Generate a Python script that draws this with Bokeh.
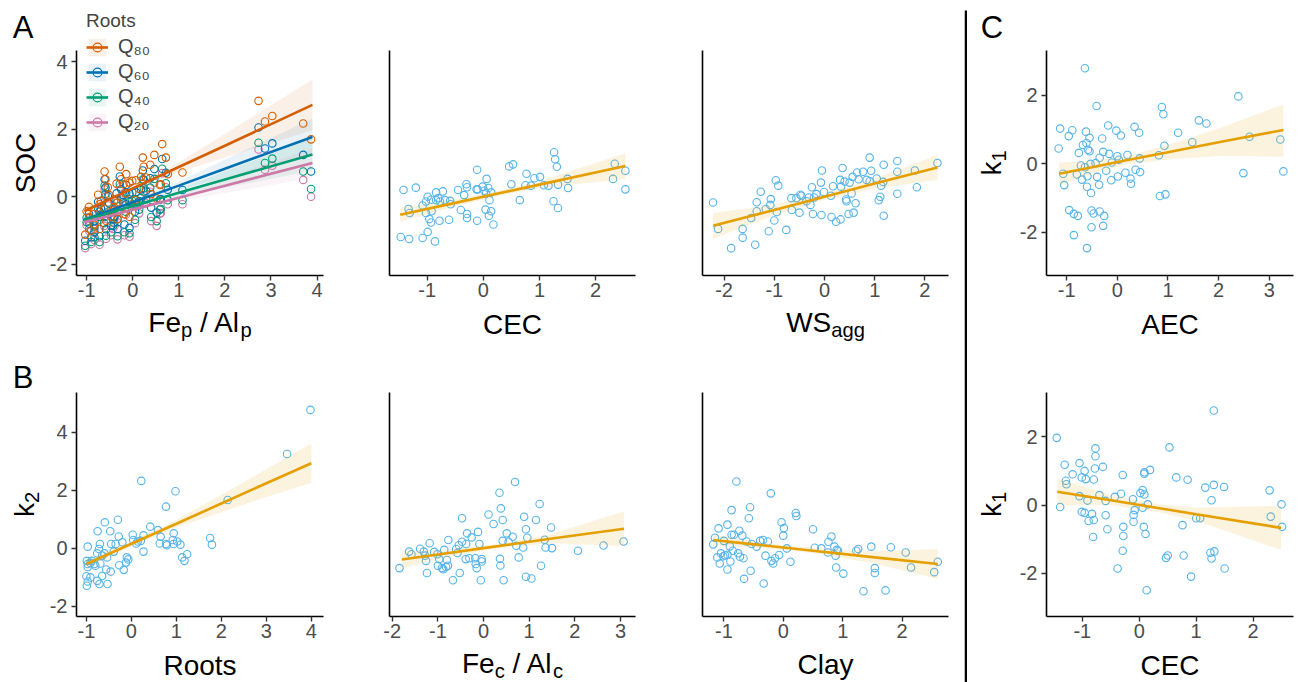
import math
from bokeh.plotting import figure
from bokeh.layouts import row, column
from bokeh.models import Range1d, FixedTicker, Label, Legend, LegendItem, BoxAnnotation
from bokeh.embed import file_html
from bokeh.resources import INLINE

FONT = "Liberation Sans"
POINT_COLOR = "#56B4E9"
FIT_COLOR = "#E69F00"
ROOT_LABELS = ["Q\u2088\u2080", "Q\u2086\u2080", "Q\u2084\u2080", "Q\u2082\u2080"]
ROOT_COLORS = ["#D55E00", "#0072B2", "#009E73", "#CC79A7"]

# ---------------- Panel A1: SOC vs Fe_p/Al_p by root quantile ----------------
soc_x = [-1.00, -1.03, -0.75, -0.61, -0.59, -0.51, -0.40, -0.35, -0.28, -0.25, -0.20, -0.14, -0.07, -0.01, 0.07,
         0.18, 0.22, 0.24, 0.29, 0.38, 0.47, 0.64, 0.61, 0.72, 0.76, 1.08, -0.07, -0.72, -0.83, -0.43, -0.33,
         -0.40, -0.54, -0.69, -0.94, 0.40, 0.14, 0.59, -0.83, -0.58, -0.47, -0.33, -0.18, -0.90, -0.72, 0.52,
         -0.95, -0.62, -0.15, 0.05, 2.73, 2.87, 3.03, 3.70, 3.87]
soc_q80 = [-0.43, -1.12, 0.06, 0.75, 0.52, 0.05, -0.10, 0.39, 0.89, 0.52, 0.37, 0.67, 0.42, 0.47, 0.49, 0.59,
           1.16, 0.89, 0.57, 0.95, 1.24, 1.56, 0.37, 1.16, 0.67, 0.72, -0.59, -0.22, -0.51, -0.41, -0.17, -0.32,
           0.28, -0.12, -0.61, 0.08, 0.23, 0.35, -0.83, -0.71, -0.59, -0.66, -0.51, -1.00, -0.95, -0.05, -0.30,
           -0.35, 0.10, -0.10, 2.84, 2.23, 2.39, 2.17, 1.70]
soc_q60 = [-0.62, -1.30, -0.15, 0.52, 0.27, -0.20, -0.38, 0.10, 0.60, 0.22, 0.05, 0.35, 0.09, 0.13, 0.14, 0.22,
           0.78, 0.50, 0.18, 0.55, 0.82, 1.12, -0.07, 0.71, 0.21, 0.20, -0.92, -0.44, -0.72, -0.67, -0.45, -0.60,
           0.02, -0.35, -0.80, -0.32, -0.13, -0.08, -1.04, -0.96, -0.86, -0.95, -0.82, -1.20, -1.17, -0.47, -0.50,
           -0.60, -0.22, -0.44, 2.05, 1.43, 1.58, 1.24, 0.75]
soc_q40 = [-0.75, -1.45, -0.35, 0.33, 0.08, -0.42, -0.58, -0.08, 0.38, 0.00, -0.16, 0.13, -0.15, -0.12, -0.10,
           -0.04, 0.52, 0.25, -0.08, 0.27, 0.53, 0.83, -0.36, 0.40, -0.10, -0.10, -1.08, -0.60, -0.88, -0.86,
           -0.66, -0.78, -0.17, -0.52, -0.94, -0.60, -0.38, -0.38, -1.20, -1.15, -1.05, -1.17, -1.05, -1.34,
           -1.34, -0.72, -0.63, -0.78, -0.44, -0.68, 1.60, 1.00, 1.13, 0.75, 0.23]
soc_q20 = [-0.84, -1.52, -0.40, 0.22, 0.00, -0.50, -0.66, -0.18, 0.28, -0.09, -0.25, 0.03, -0.25, -0.21, -0.20,
           -0.15, 0.41, 0.14, -0.19, 0.15, 0.42, 0.70, -0.48, 0.28, -0.22, -0.22, -1.18, -0.68, -0.95, -0.95,
           -0.76, -0.88, -0.26, -0.60, -1.02, -0.72, -0.49, -0.50, -1.28, -1.24, -1.14, -1.26, -1.14, -1.40,
           -1.42, -0.86, -0.71, -0.86, -0.53, -0.78, 1.40, 0.80, 0.92, 0.50, 0.00]
soc_fit_x = [-1.05, -0.5, 0.0, 1.0, 2.0, 3.9]
soc_fit_q80 = [-0.42, -0.07, 0.25, 0.88, 1.51, 2.72]
soc_lo_q80 = [-0.57, -0.15, 0.18, 0.73, 1.16, 1.97]
soc_hi_q80 = [-0.27, 0.01, 0.32, 1.03, 1.86, 3.47]
soc_fit_q60 = [-0.68, -0.41, -0.16, 0.33, 0.83, 1.77]
soc_lo_q60 = [-0.81, -0.48, -0.22, 0.21, 0.56, 1.22]
soc_hi_q60 = [-0.55, -0.34, -0.10, 0.45, 1.10, 2.32]
soc_fit_q40 = [-0.68, -0.47, -0.27, 0.12, 0.51, 1.25]
soc_lo_q40 = [-0.80, -0.53, -0.33, 0.01, 0.27, 0.77]
soc_hi_q40 = [-0.56, -0.41, -0.21, 0.23, 0.75, 1.73]
soc_fit_q20 = [-0.75, -0.56, -0.38, -0.03, 0.33, 1.00]
soc_lo_q20 = [-0.87, -0.62, -0.44, -0.13, 0.11, 0.56]
soc_hi_q20 = [-0.63, -0.50, -0.32, 0.07, 0.55, 1.44]

# ---------------- Panel A2: SOC vs CEC ----------------
cecA_x = [-1.42, -1.20, -1.33, -1.31, -1.47, -1.32, -1.08, -0.99, -0.86, -1.08, -1.02, -0.99, -0.93, -0.84, -0.84,
          -0.80, -0.72, -0.77, -0.68, -0.59, -0.58, -1.02, -0.96, -0.93, -0.92, -0.78, -0.61, -0.45, -0.34, -0.30,
          -0.29, -0.40, -0.29, -0.29, -0.11, -0.11, -0.12, -0.10, -0.01, 0.02, 0.06, 0.05, 0.09, 0.11, 0.14, 0.04,
          0.10, 0.14, 0.18, 0.46, 0.53, 0.50, 0.65, 0.77, 0.75, 0.85, 0.91, 1.01, 1.08, 1.16, 1.26, 1.28, 1.31,
          1.25, 1.33, 1.33, 1.50, 1.51, 2.34, 2.31, 2.53, 2.53]
cecA_soc = [0.20, 0.27, -0.36, -0.48, -1.19, -1.25, -1.22, -1.04, -1.32, -0.26, -0.14, 0.00, -0.09, 0.13, -0.10,
            -0.04, 0.16, -0.14, -0.10, -0.12, -0.22, -0.48, -0.66, -0.76, -0.43, -0.71, -0.68, 0.20, 0.05, 0.37,
            0.28, -0.39, -0.51, -0.63, -0.71, 0.80, 0.22, 0.22, 0.30, 0.18, 0.53, 0.10, 0.26, -0.10, 0.13, -0.38,
            -0.56, -0.43, -0.82, 0.90, 0.96, 0.37, -0.10, 0.68, 0.34, 0.33, 0.55, 0.59, 0.34, 0.33, 1.32, 1.11,
            0.89, -0.13, -0.33, 0.36, 0.53, 0.26, 0.98, 0.53, 0.77, 0.22]
cecA_fit_x = [-1.48, -0.5, 0.3, 1.0, 2.53]
cecA_fit = [-0.53, -0.18, 0.11, 0.36, 0.91]
cecA_lo = [-0.74, -0.28, 0.03, 0.26, 0.53]
cecA_hi = [-0.32, -0.08, 0.19, 0.46, 1.29]

# ---------------- Panel A3: SOC vs WS_agg ----------------
ws_x = [-2.22, -2.12, -1.86, -1.63, -1.63, -1.38, -1.46, -1.35, -1.35, -1.27, -1.17, -1.08, -1.07, -1.11, -1.00,
        -0.95, -0.97, -0.92, -0.76, -0.66, -0.65, -0.56, -0.50, -0.48, -0.46, -0.36, -0.31, -0.28, -0.25, -0.23,
        -0.21, -0.16, -0.07, -0.05, -0.06, -0.01, 0.13, 0.14, 0.17, 0.23, 0.31, 0.32, 0.33, 0.36, 0.40, 0.43,
        0.44, 0.48, 0.50, 0.54, 0.56, 0.58, 0.62, 0.65, 0.68, 0.77, 0.84, 0.90, 0.93, 0.90, 1.04, 1.08, 1.11,
        1.13, 1.17, 1.18, 1.18, 1.45, 1.45, 1.45, 1.80, 1.84, 2.25]
ws_soc = [-0.17, -0.95, -1.52, -0.95, -1.21, -1.42, -0.63, -0.16, -0.43, 0.15, -0.36, -0.24, -0.07, -1.02, -0.70,
          -0.45, 0.49, 0.33, -0.98, -0.04, -0.39, -0.04, -0.47, 0.06, 0.03, -0.13, -0.02, -0.24, 0.28, -0.51,
          -0.02, 0.08, 0.42, 0.78, -0.54, 0.14, 0.03, -0.60, 0.31, -0.74, 0.50, -0.67, 0.30, 0.85, 0.45, -0.08,
          -0.13, -0.51, 0.42, 0.10, 0.59, -0.47, -0.19, 0.72, 0.52, 0.74, 0.50, 1.16, 0.77, 0.46, 0.54, -0.10,
          0.00, 0.33, 0.44, 0.95, -0.56, 1.06, 0.74, 0.09, 0.78, 0.28, 1.00]
ws_fit_x = [-2.22, -1.0, 0.0, 1.0, 2.25]
ws_fit = [-0.86, -0.39, 0.0, 0.39, 0.87]
ws_lo = [-1.24, -0.55, -0.09, 0.24, 0.50]
ws_hi = [-0.48, -0.23, 0.09, 0.54, 1.24]

# ---------------- Panel C1: k1 vs AEC ----------------
aec_x = [-1.16, -1.13, -0.96, -0.89, -1.07, -1.05, -0.95, -0.86, -0.78, -0.86, -0.80, -0.76, -0.72, -0.68, -0.64,
         -0.70, -0.64, -0.62, -0.61, -0.58, -0.55, -0.55, -0.59, -0.60, -0.53, -0.52, -0.60, -0.51, -0.47, -0.51,
         -0.41, -0.43, -0.40, -0.36, -0.35, -0.35, -0.30, -0.28, -0.26, -0.28, -0.22, -0.18, -0.16, -0.12, -0.11,
         -0.02, 0.00, 0.01, 0.03, 0.07, 0.16, 0.20, 0.26, 0.27, 0.34, 0.36, 0.43, 0.44, 0.45, 0.82, 0.84, 0.88,
         0.91, 0.93, 0.95, 1.20, 1.48, 1.61, 1.76, 2.39, 2.49, 2.61, 3.22, 3.28]
aec_k1 = [0.44, 1.02, 0.80, 0.97, -0.30, -0.63, -1.36, -1.47, -1.53, -2.09, -0.32, 0.31, -0.06, 0.54, -0.11, -0.47,
          2.78, 0.93, 0.60, 0.40, 0.75, 0.36, -0.37, -0.68, -0.01, -0.86, -2.47, -1.37, -1.46, -1.86, 1.68, 0.01,
          -0.39, -0.62, 0.17, -1.40, 0.73, 0.34, -1.53, -1.82, -0.21, 1.11, 0.28, -0.49, 0.03, 0.96, 0.21, -0.38,
          0.11, 0.82, -0.27, 0.25, -0.44, -0.59, 1.07, -0.18, 0.90, 0.15, -0.25, 0.24, -0.95, 1.65, 1.44, 0.52,
          -0.90, 0.90, 0.62, 1.26, 1.17, 1.96, -0.28, 0.78, 0.70, -0.23]
aec_fit_x = [-1.15, -0.5, 0.2, 1.0, 2.0, 3.28]
aec_fit = [-0.30, -0.11, 0.10, 0.33, 0.62, 0.98]
aec_lo = [-0.63, -0.30, -0.02, 0.12, 0.22, 0.20]
aec_hi = [0.03, 0.08, 0.22, 0.54, 1.02, 1.72]

# ---------------- Panel B1: k2 vs Roots ----------------
roots_x = [3.98, 3.46, 2.14, 1.75, 1.79, 0.22, 0.98, 0.77, 0.42, 0.59, 0.65, 0.94, 0.92, 1.02, 1.09, 0.63, 0.77,
           0.79, 0.94, 1.13, 1.18, 1.24, 0.27, 0.27, 0.03, 0.04, 0.11, 0.14, 0.21, -0.30, -0.28, -0.35, -0.20,
           -0.39, -0.27, -0.10, -0.07, -0.12, -0.17, -0.59, -0.75, -0.47, -0.45, -0.70, -0.72, -0.76, -0.60,
           -0.65, -0.54, -0.56, -0.46, -0.65, -0.53, -0.71, -0.76, -0.97, -0.99, -0.97, -0.97, -0.91, -0.88,
           -0.82, -1.00, -0.97, -0.99, -0.91, -0.80, -0.69]
roots_k2 = [4.77, 3.25, 1.66, 0.35, 0.12, 2.32, 1.96, 1.43, 0.74, 0.62, 0.39, 0.51, 0.28, 0.23, 0.12, 0.16, 0.14,
            0.10, 0.14, -0.32, -0.44, -0.21, 0.44, -0.12, 0.46, 0.28, 0.16, 0.23, 0.25, 0.98, 0.40, 0.14, 0.20,
            -0.12, -0.59, -0.32, -0.39, -0.50, -0.75, 0.89, 0.58, 0.58, 0.14, 0.14, -0.03, -0.18, -0.18, -0.26,
            -0.32, -0.74, -0.81, -0.96, -1.24, -1.24, -1.13, 0.05, -0.44, -0.55, -0.65, -0.51, -0.44, -0.55,
            -0.97, -1.15, -1.30, -1.01, -0.61, -0.53]
roots_fit_x = [-1.0, 0.0, 1.0, 2.0, 3.0, 4.0]
roots_fit = [-0.55, 0.15, 0.84, 1.54, 2.24, 2.93]
roots_lo = [-0.70, 0.06, 0.71, 1.24, 1.76, 2.25]
roots_hi = [-0.41, 0.24, 0.97, 1.84, 2.72, 3.61]

# ---------------- Panel B2: k2 vs Fe_c/Al_c ----------------
fec_x = [-1.84, -1.63, -1.58, -1.39, -1.31, -1.28, -1.26, -1.24, -1.18, -1.08, -1.01, -0.97, -1.00, -0.91, -0.88,
         -0.82, -0.78, -0.80, -0.86, -0.77, -0.67, -0.60, -0.57, -0.54, -0.52, -0.47, -0.47, -0.38, -0.36, -0.39,
         -0.31, -0.26, -0.18, -0.17, -0.15, -0.12, -0.09, -0.06, -0.04, -0.04, 0.11, 0.22, 0.35, 0.38, 0.42, 0.36,
         0.37, 0.42, 0.44, 0.51, 0.55, 0.64, 0.69, 0.72, 0.77, 0.87, 0.89, 0.93, 0.96, 0.93, 1.05, 1.15, 1.23,
         1.26, 1.34, 1.36, 1.48, 1.50, 2.07, 2.63, 3.07]
fec_k2 = [-0.69, -0.12, -0.21, -0.02, -0.12, -0.26, -0.44, -0.86, 0.17, -0.13, -0.21, -0.38, -0.61, -0.69, -0.73,
          -0.65, -0.61, -0.41, -0.06, 0.28, -1.11, -0.03, -0.17, 0.10, -0.86, 1.03, 0.22, 0.14, 0.51, -0.38, -0.35,
          0.37, -0.35, -0.55, -0.69, 0.56, 0.14, -1.11, -0.38, -0.46, 1.16, 0.83, 1.91, 1.37, 0.97, -0.37, -0.60,
          0.25, -1.11, 0.51, 0.22, 0.39, 2.28, 0.08, -0.32, 0.02, 1.08, 0.65, 0.36, -0.99, -1.05, 0.97, 1.52,
          -0.61, 0.29, 0.02, 0.71, 0.00, -0.09, 0.09, 0.23]
fec_fit_x = [-1.79, -1.0, 0.0, 0.5, 1.5, 3.08]
fec_fit = [-0.39, -0.22, 0.0, 0.11, 0.33, 0.67]
fec_lo = [-0.70, -0.37, -0.09, 0.02, 0.17, 0.07]
fec_hi = [-0.08, -0.07, 0.09, 0.20, 0.49, 1.27]

# ---------------- Panel B3: k2 vs Clay ----------------
clay_x = [-1.18, -1.15, -1.09, -1.11, -1.07, -1.05, -1.01, -1.00, -0.98, -0.94, -0.94, -0.94, -0.90, -0.89, -0.87,
          -0.87, -0.85, -0.83, -0.79, -0.76, -0.74, -0.73, -0.69, -0.67, -0.66, -0.62, -0.58, -0.56, -0.55, -0.53,
          -0.45, -0.39, -0.34, -0.33, -0.30, -0.26, -0.21, -0.20, -0.17, -0.14, -0.07, -0.03, 0.01, 0.00, 0.06,
          0.12, 0.21, 0.22, 0.50, 0.53, 0.64, 0.75, 0.76, 0.81, 0.86, 0.88, 0.90, 0.92, 0.89, 1.01, 1.23, 1.26,
          1.35, 1.48, 1.54, 1.54, 1.72, 1.81, 2.06, 2.15, 2.54, 2.60]
clay_k2 = [0.13, 0.36, 0.68, -0.32, -0.53, -0.18, -0.28, 0.25, -0.25, -0.74, 0.81, -0.23, 0.06, -0.46, 1.31, 0.46,
           -0.09, 0.46, 2.30, -0.18, 0.60, -0.30, 0.43, -0.35, -1.06, 0.23, 1.03, 1.41, -0.78, 0.14, 0.05, 0.25,
           0.28, -1.22, -0.26, 0.23, 1.89, -0.44, -0.53, -0.35, -0.24, 0.89, 0.69, 0.43, -0.01, -0.47, 1.21, 1.11,
           0.65, 0.01, -0.01, -0.15, 0.22, 0.40, 0.05, -0.26, -0.06, -0.09, -0.67, -0.88, -0.09, -0.03, -1.49,
           0.05, -0.69, -0.86, -1.46, 0.03, -0.15, -0.67, -0.83, -0.47]
clay_fit_x = [-1.18, -0.5, 0.0, 0.5, 1.5, 2.6]
clay_fit = [0.28, 0.13, 0.02, -0.09, -0.31, -0.55]
clay_lo = [0.09, 0.03, -0.06, -0.18, -0.51, -1.07]
clay_hi = [0.47, 0.23, 0.10, 0.00, -0.11, -0.03]

# ---------------- Panel C2: k1 vs CEC ----------------
cecC_x = [-1.45, -1.39, -1.31, -1.29, -1.28, -1.17, -1.05, -1.05, -1.01, -1.01, -0.96, -0.96, -0.94, -0.91, -0.89,
          -0.83, -0.81, -0.80, -0.80, -0.77, -0.77, -0.78, -0.70, -0.64, -0.59, -0.59, -0.56, -0.43, -0.38, -0.32,
          -0.29, -0.28, -0.28, -0.29, -0.11, -0.10, -0.10, -0.08, 0.02, 0.06, 0.06, 0.08, 0.09, 0.09, 0.11, 0.09,
          0.15, 0.13, 0.19, 0.53, 0.47, 0.50, 0.65, 0.76, 0.78, 0.85, 0.91, 1.00, 1.07, 1.16, 1.27, 1.25, 1.27,
          1.31, 1.31, 1.32, 1.49, 1.50, 2.29, 2.31, 2.50, 2.51]
cecC_k1 = [1.97, -0.06, 1.18, 0.71, 0.61, 0.90, 1.23, 0.26, -0.20, 0.81, 1.00, -0.23, 0.76, 0.13, -0.47, -0.26,
           -0.94, -0.44, 0.75, 1.66, 1.43, 1.07, 0.29, 1.12, -0.30, 0.12, -0.71, 0.24, -1.86, 0.33, 0.88, -0.64,
           -0.91, -1.34, 0.17, -0.29, -0.49, -0.15, 0.35, 0.44, -0.08, -0.64, 0.31, 0.92, -0.85, 0.96, 0.02, -2.50,
           1.03, 1.69, -1.55, -1.48, 0.81, -0.59, -1.48, 0.74, -2.10, -0.39, -0.39, 0.51, 0.14, -1.40, -1.57, 2.77,
           0.59, -1.36, 0.53, -1.86, 0.43, -0.34, 0.02, -0.64]
cecC_fit_x = [-1.44, -0.5, 0.3, 1.0, 2.49]
cecC_fit = [0.39, 0.14, -0.08, -0.27, -0.67]
cecC_lo = [-0.01, -0.01, -0.20, -0.46, -1.32]
cecC_hi = [0.79, 0.29, 0.04, -0.08, -0.02]

# ---------------- layout geometry (page pixels, page has no margin) ----------------
# plot columns: (figure_left, figure_width, frame_left, frame_width)
COLS = [(46, 310, 76, 247), (356, 324, 389, 246), (680, 284, 702, 246), (1013, 287, 1046, 247)]
# plot rows: (figure_top, figure_height, frame_top, frame_height)
ROWS = [(0, 305, 50, 225), (350, 296, 392, 224)]
TITLE_ROWS = [(305, 45), (646, 36)]   # (top, height)
FULL_H = 682
MID = 0.33   # distance from a text's middle to its baseline, in em

CHAR_W = {'F': .611, 'e': .556, 'p': .556, ' ': .278, '/': .278, 'A': .667, 'l': .222, 'c': .5, 'W': .944,
          'S': .667, 'a': .556, 'g': .556, 'k': .5, '1': .556, '2': .556, 'C': .722, 'E': .667, 'O': .778,
          'R': .722, 'o': .556, 't': .278, 's': .5, 'y': .5, 'B': .667}
MINUS = {-1: "-1", -2: "-2", -3: "-3"}


def style_axes(p, xticks, yticks, ybounds=None):
    p.xgrid.visible = False
    p.ygrid.visible = False
    for ax in (p.xaxis[0], p.yaxis[0]):
        ax.axis_line_color = "black"
        ax.axis_line_width = 1.6
        ax.major_tick_line_color = "#333333"
        ax.major_tick_line_width = 1.4
        ax.major_tick_out = 5
        ax.major_tick_in = 0
        ax.minor_tick_line_color = None
        ax.major_label_text_font = FONT
        ax.major_label_text_font_size = "20px"
        ax.major_label_text_color = "#4D4D4D"
        ax.major_label_overrides = MINUS
    p.xaxis[0].ticker = FixedTicker(ticks=xticks)
    p.xaxis[0].major_label_standoff = 2
    if yticks:
        p.yaxis[0].ticker = FixedTicker(ticks=yticks)
        p.yaxis[0].major_label_standoff = 4
    else:
        p.yaxis[0].ticker = FixedTicker(ticks=[])
        p.yaxis[0].major_tick_line_color = None
        p.yaxis[0].major_label_text_font_size = "0px"
    if ybounds is not None:
        p.yaxis[0].bounds = ybounds


def make_panel(ci, ri, xr, yr, xticks, yticks, extra_top=0):
    gl, gw, fl, fw = COLS[ci]
    gt, gh, ft, fh = ROWS[ri]
    y0, y1 = yr
    ft2 = ft - extra_top
    y1_ext = y1 + extra_top * (y1 - y0) / fh
    p = figure(width=gw, height=gh, x_range=Range1d(*xr), y_range=Range1d(y0, y1_ext), title=None,
               output_backend="svg", toolbar_location=None,
               min_border_left=fl - gl, min_border_right=gw - (fl - gl) - fw,
               min_border_top=ft2 - gt, min_border_bottom=gh - (ft - gt) - fh,
               outline_line_color=None, background_fill_color="white", border_fill_color="white")
    style_axes(p, xticks, yticks, ybounds=(y0, y1) if extra_top else None)
    return p


def text_fig(w, h, bl=0, br=0):
    """A blank figure whose frame is (w - bl - br) x h; data units = pixels from the frame's bottom-left."""
    fw = w - bl - br
    p = figure(width=w, height=h, x_range=Range1d(0, fw), y_range=Range1d(0, h), title=None,
               output_backend="svg", toolbar_location=None, x_axis_type=None, y_axis_type=None,
               min_border_left=bl, min_border_right=br, min_border_top=0, min_border_bottom=0,
               outline_line_color=None, background_fill_color="white", border_fill_color="white")
    p.grid.visible = False
    return p


def text_width(s, size):
    return sum(CHAR_W.get(c, 0.556) for c in s) * size


def rich(p, origin, pieces, cx, cy, size=28, rotated=False):
    """Place text pieces (text, is_subscript) given page coordinates.
    origin = (page x of frame left, page y of frame top, frame height).
    Horizontal: cx = centre x, cy = baseline y.  Rotated: cx = baseline x, cy = centre y."""
    ox, oy, h = origin
    sub = size * 0.72
    widths = [text_width(t, sub if s else size) for t, s in pieces]
    total = sum(widths)
    pos = (cx - total / 2) if not rotated else (cy + total / 2)
    for (t, s), w in zip(pieces, widths):
        fs = sub if s else size
        lead = len(t) - len(t.lstrip(" "))
        adv = lead * CHAR_W[" "] * fs
        txt = t.lstrip(" ")
        shift = (size * 0.19 if s else 0) - fs * MID   # from baseline to text middle
        if not rotated:
            px, py = pos + adv, cy + shift
            pos += w
            ang = 0
        else:
            px, py = cx + shift, pos - adv
            pos -= w
            ang = math.pi / 2
        p.add_layout(Label(x=px - ox, y=h - (py - oy), text=txt, text_font=FONT, text_font_size=f"{fs:.1f}px",
                           text_align="left", text_baseline="middle", text_color="black", angle=ang))


def simple_panel(p, xs, ys, fx, fy, lo, hi):
    p.scatter(xs, ys, marker="circle", size=7.5, fill_color=None, line_color=POINT_COLOR, line_width=1.1)
    p.varea(x=fx, y1=lo, y2=hi, fill_color=FIT_COLOR, fill_alpha=0.13)
    p.line(fx, fy, line_color=FIT_COLOR, line_width=2.6)


def title_fig(ci, ri, pieces, base):
    gl, gw, fl, fw = COLS[ci]
    top, h = TITLE_ROWS[ri]
    bl = fl - gl
    br = gw - bl - fw
    t = text_fig(gw, h, bl, br)
    rich(t, (fl, top, h), pieces, fl + fw / 2, base)
    return t


SOC_Y = (-2.33, 4.33)
K2_Y = (-2.36, 5.37)
K1_Y = (-3.27, 3.30)

# ---- top row
pA1 = make_panel(0, 0, (-1.22, 4.14), SOC_Y, [-1, 0, 1, 2, 3, 4], [-2, 0, 2, 4], extra_top=42)
series = [(soc_q80, soc_fit_q80, soc_lo_q80, soc_hi_q80), (soc_q60, soc_fit_q60, soc_lo_q60, soc_hi_q60),
          (soc_q40, soc_fit_q40, soc_lo_q40, soc_hi_q40), (soc_q20, soc_fit_q20, soc_lo_q20, soc_hi_q20)]
rend = []
for (ys, fy, lo, hi), col in zip(series, ROOT_COLORS):
    rib = pA1.varea(x=soc_fit_x, y1=lo, y2=hi, fill_color=col, fill_alpha=0.09)
    rend.append([rib])
for i in reversed(range(4)):
    pts = pA1.scatter(soc_x, series[i][0], marker="circle", size=7.5, fill_color=None,
                      line_color=ROOT_COLORS[i], line_width=1.1)
    rend[i].append(pts)
for i in range(4):
    ln = pA1.line(soc_fit_x, series[i][1], line_color=ROOT_COLORS[i], line_width=2.6)
    rend[i].append(ln)
items = [LegendItem(label=lab, renderers=rs) for lab, rs in zip(ROOT_LABELS, rend)]
legend = Legend(items=items, title="Roots", title_text_font=FONT, title_text_font_size="19px",
                title_text_font_style="normal", title_standoff=3,
                label_text_font=FONT, label_text_font_size="20px", glyph_width=22, glyph_height=22,
                spacing=2, padding=0, margin=0, border_line_color=None, background_fill_alpha=0,
                label_standoff=10, location=(10, 142))
pA1.add_layout(legend)
tA1 = title_fig(0, 0, [("Fe", False), ("p", True), (" / Al", False), ("p", True)], 331)

pA2 = make_panel(1, 0, (-1.67, 2.71), SOC_Y, [-1, 0, 1, 2], None)
simple_panel(pA2, cecA_x, cecA_soc, cecA_fit_x, cecA_fit, cecA_lo, cecA_hi)
tA2 = title_fig(1, 0, [("CEC", False)], 333)

pA3 = make_panel(2, 0, (-2.43, 2.47), SOC_Y, [-2, -1, 0, 1, 2], None)
simple_panel(pA3, ws_x, ws_soc, ws_fit_x, ws_fit, ws_lo, ws_hi)
tA3 = title_fig(2, 0, [("WS", False), ("agg", True)], 331)

pC1 = make_panel(3, 0, (-1.40, 3.48), K1_Y, [-1, 0, 1, 2, 3], [-2, 0, 2])
simple_panel(pC1, aec_x, aec_k1, aec_fit_x, aec_fit, aec_lo, aec_hi)
tC1 = title_fig(3, 0, [("AEC", False)], 333)

# ---- bottom row
pB1 = make_panel(0, 1, (-1.22, 4.27), K2_Y, [-1, 0, 1, 2, 3, 4], [-2, 0, 2, 4])
simple_panel(pB1, roots_x, roots_k2, roots_fit_x, roots_fit, roots_lo, roots_hi)
tB1 = title_fig(0, 1, [("Roots", False)], 674)

pB2 = make_panel(1, 1, (-2.06, 3.33), K2_Y, [-2, -1, 0, 1, 2, 3], None)
simple_panel(pB2, fec_x, fec_k2, fec_fit_x, fec_fit, fec_lo, fec_hi)
tB2 = title_fig(1, 1, [("Fe", False), ("c", True), (" / Al", False), ("c", True)], 672)

pB3 = make_panel(2, 1, (-1.36, 2.78), K2_Y, [-1, 0, 1, 2], None)
simple_panel(pB3, clay_x, clay_k2, clay_fit_x, clay_fit, clay_lo, clay_hi)
tB3 = title_fig(2, 1, [("Clay", False)], 673)

pC2 = make_panel(3, 1, (-1.63, 2.71), K1_Y, [-1, 0, 1, 2], [-2, 0, 2])
simple_panel(pC2, cecC_x, cecC_k1, cecC_fit_x, cecC_fit, cecC_lo, cecC_hi)
tC2 = title_fig(3, 1, [("CEC", False)], 674)

# ---- left strip (panel letters A, B and y titles)
stripL = text_fig(46, FULL_H)
rich(stripL, (0, 0, FULL_H), [("A", False)], 22.5, 37, size=31)
rich(stripL, (0, 0, FULL_H), [("B", False)], 22.5, 387, size=31)
rich(stripL, (0, 0, FULL_H), [("SOC", False)], 34, 162.5, rotated=True)
rich(stripL, (0, 0, FULL_H), [("k", False), ("2", True)], 33, 504, rotated=True)

# ---- right strip (panel letter C and y titles)
stripR = text_fig(46, FULL_H)
rich(stripR, (967, 0, FULL_H), [("C", False)], 991.5, 37, size=31)
rich(stripR, (967, 0, FULL_H), [("k", False), ("1", True)], 1000, 162.5, rotated=True)
rich(stripR, (967, 0, FULL_H), [("k", False), ("1", True)], 1000, 504, rotated=True)

# ---- vertical divider (black bar from y=10 down to the bottom)
divider = text_fig(3, FULL_H)
divider.add_layout(BoxAnnotation(left=0, right=3, bottom=0, top=FULL_H - 10, fill_color="black",
                                 fill_alpha=1.0, line_color=None))

layout = row(stripL,
             column(pA1, tA1, pB1, tB1),
             column(pA2, tA2, pB2, tB2),
             column(pA3, tA3, pB3, tB3),
             divider,
             stripR,
             column(pC1, tC1, pC2, tC2))

with open("out.html", "w") as f:
    f.write(file_html(layout, INLINE))
